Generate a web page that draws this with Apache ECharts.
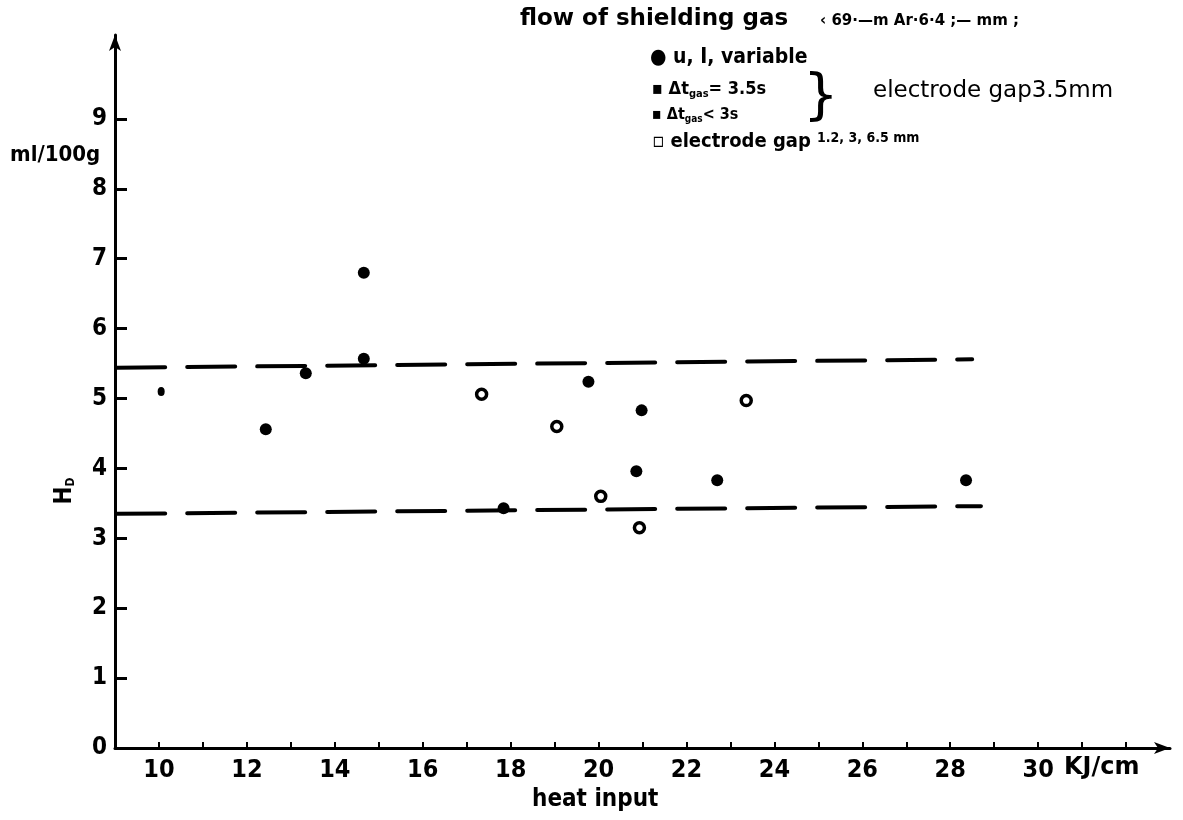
<!DOCTYPE html>
<html>
<head>
<meta charset="utf-8">
<title>heat input vs H</title>
<script src="https://cdn.jsdelivr.net/npm/echarts@6.0.0/dist/echarts.min.js"></script>
<style>
    html, body { margin: 0; padding: 0; background: #fff; }
    #chart { width: 1183px; height: 820px; }
</style>
</head>
<body>
<div id="chart"></div>
<script>
// values (x = heat input KJ/cm, y = ml/100g)
const xLabelValues = [10, 12, 14, 16, 18, 20, 22, 24, 26, 28, 30];
const xTickValues = [10, 11, 12, 13, 14, 15, 16, 17, 18, 19, 20, 21, 22, 23, 24, 25, 26, 27, 28, 29, 30, 31, 32];
const yTickValues = [0, 1, 2, 3, 4, 5, 6, 7, 8, 9];

const filledPoints = [
    [12.43, 4.56], [13.34, 5.36], [14.66, 5.57], [14.66, 6.8],
    [17.84, 3.43], [19.77, 5.24], [20.98, 4.83], [20.86, 3.96],
    [22.7, 3.83], [28.36, 3.83]
];
const smallPoints = [[10.05, 5.1]];
const openPoints = [
    [17.34, 5.06], [19.05, 4.6], [20.05, 3.6], [20.93, 3.15], [23.36, 4.97]
];
const upperBand = [[9.05, 5.44], [28.5, 5.56]];
const lowerBand = [[9.05, 3.35], [28.7, 3.46]];

const FONT = '"Liberation Sans Narrow", "DejaVu Sans Condensed", "Liberation Sans", sans-serif';
const WIDE = '"DejaVu Sans", sans-serif';

var chart = echarts.init(document.getElementById('chart'));

function bandLine(data) {
    return {
        type: 'line',
        data: data,
        symbol: 'none',
        silent: true,
        lineStyle: { color: '#000', width: 4, type: [48, 22], cap: 'round' },
        z: 2
    };
}

var option = {
    backgroundColor: '#fff',
    animation: false,
    grid: { left: 115, right: 13, top: 35, bottom: 72 },
    xAxis: {
        type: 'value',
        min: 9,
        max: 33,
        splitLine: { show: false },
        axisLine: {
            lineStyle: { color: '#000', width: 3 },
            symbol: ['none', 'arrow'],
            symbolSize: [9, 16]
        },
        axisTick: {
            inside: true, length: 6,
            lineStyle: { color: '#000', width: 2 },
            customValues: xTickValues
        },
        axisLabel: {
            customValues: xLabelValues,
            color: '#000', fontSize: 25, fontWeight: 'bold', fontFamily: FONT,
            margin: 10
        }
    },
    yAxis: {
        type: 'value',
        min: 0,
        max: 10.2,
        splitLine: { show: false },
        axisLine: {
            lineStyle: { color: '#000', width: 3 },
            symbol: ['none', 'arrow'],
            symbolSize: [9, 16]
        },
        axisTick: {
            inside: true, length: 12,
            lineStyle: { color: '#000', width: 3 },
            customValues: yTickValues
        },
        axisLabel: {
            customValues: yTickValues,
            color: '#000', fontSize: 24, fontWeight: 'bold', fontFamily: FONT,
            margin: 8
        }
    },
    series: [
        bandLine(upperBand),
        bandLine(lowerBand),
        {
            name: 'u, I, variable',
            type: 'scatter',
            data: filledPoints,
            symbol: 'circle',
            symbolSize: 12,
            itemStyle: { color: '#000', opacity: 1 },
            z: 3
        },
        {
            name: 'small',
            type: 'scatter',
            data: smallPoints,
            symbol: 'circle',
            symbolSize: [7, 9],
            itemStyle: { color: '#000', opacity: 1 },
            z: 3
        },
        {
            name: 'electrode gap 1.2, 3, 6.5 mm',
            type: 'scatter',
            data: openPoints,
            symbol: 'circle',
            symbolSize: 10,
            itemStyle: { color: '#fff', borderColor: '#000', borderWidth: 3.5, opacity: 1 },
            z: 3
        }
    ],
    graphic: [
        { type: 'text', left: 520, top: 8, style: { text: 'flow of shielding gas', font: 'bold 23px ' + WIDE, fill: '#000' } },
        { type: 'text', left: 820, top: 14, style: { text: '‹ 69·—m Ar·6·4 ;— mm ;', font: 'bold 15px ' + WIDE, fill: '#000' } },
        { type: 'text', left: 650, top: 47, style: { text: '● u, I, variable', font: 'bold 21px ' + FONT, fill: '#000' } },
        { type: 'text', left: 652, top: 80, style: {
            rich: {
                a: { font: 'bold 18px ' + FONT, fill: '#000' },
                s: { font: 'bold 11px ' + FONT, fill: '#000', padding: [10, 0, 0, 0] }
            },
            text: '{a|▪ Δt}{s|gas}{a|= 3.5s}'
        } },
        { type: 'text', left: 652, top: 107, style: {
            rich: {
                a: { font: 'bold 16px ' + FONT, fill: '#000' },
                s: { font: 'bold 10px ' + FONT, fill: '#000', padding: [9, 0, 0, 0] }
            },
            text: '{a|▪ Δt}{s|gas}{a|< 3s}'
        } },
        { type: 'text', left: 803, top: 70, style: { text: '}', font: '56px ' + WIDE, fill: '#000' } },
        { type: 'text', left: 873, top: 80, style: { text: 'electrode gap3.5mm', font: '23px ' + WIDE, fill: '#000' } },
        { type: 'text', left: 652, top: 131, style: {
            rich: {
                a: { font: 'bold 20px ' + FONT, fill: '#000' },
                s: { font: 'bold 14px ' + FONT, fill: '#000', padding: [0, 0, 8, 0] }
            },
            text: '{a|▫ electrode gap }{s|1.2, 3, 6.5 mm}'
        } },
        { type: 'text', left: 10, top: 144, style: { text: 'ml/100g', font: 'bold 22px ' + FONT, fill: '#000' } },
        { type: 'text', x: 65, y: 491, rotation: Math.PI / 2, style: {
            rich: {
                a: { font: 'bold 24px ' + FONT, fill: '#000' },
                s: { font: 'bold 12px ' + FONT, fill: '#000', padding: [12, 0, 0, 0] }
            },
            text: '{a|H}{s|D}', align: 'center', verticalAlign: 'middle'
        } },
        { type: 'text', left: 1064, top: 756, style: { text: 'KJ/cm', font: 'bold 24px ' + WIDE, fill: '#000' } },
        { type: 'text', left: 532, top: 788, style: { text: 'heat input', font: 'bold 24px ' + FONT, fill: '#000' } }
    ]
};

chart.setOption(option);
</script>
</body>
</html>
